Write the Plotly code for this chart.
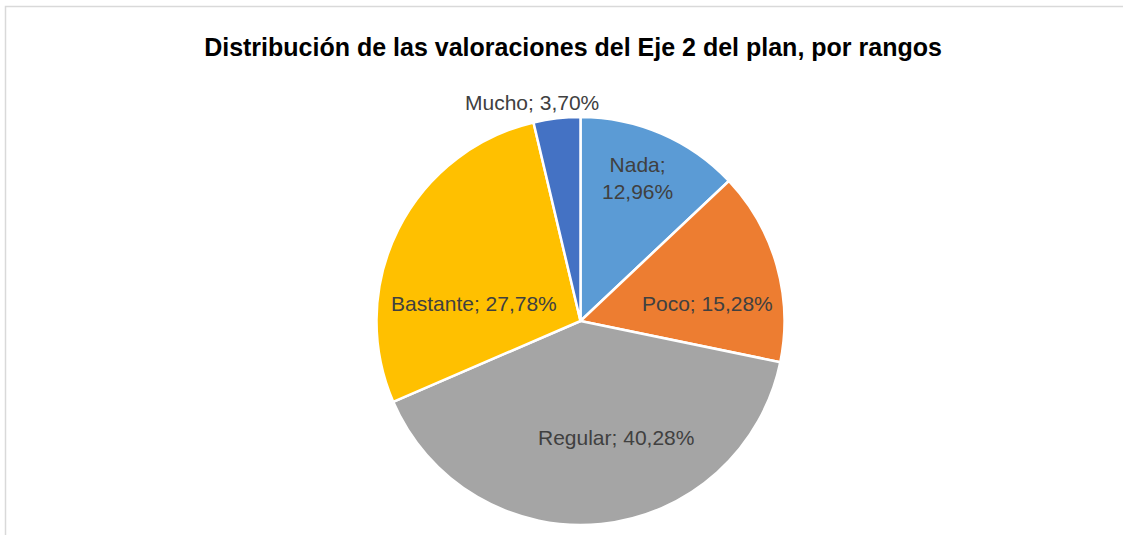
import plotly.graph_objects as go

categories = ["Nada", "Poco", "Regular", "Bastante", "Mucho"]
values = [12.96, 15.28, 40.28, 27.78, 3.70]
colors = ["#5B9BD5", "#ED7D31", "#A5A5A5", "#FFC000", "#4472C4"]
# label layout (pixel centres of each data label, as in the reference) and line breaks
label_pos = [(637, 178), (708, 303), (616, 437), (474, 303), (532, 103)]
label_sep = [";<br>", "; ", "; ", "; ", "; "]

W, H = 1123, 535
cx, cy, R = 580.5, 321, 204
FONT = "Liberation Sans, Arial, sans-serif"

fig = go.Figure(go.Pie(
    labels=categories, values=values, sort=False, direction="clockwise", rotation=0,
    marker=dict(colors=colors, line=dict(color="white", width=2.5)),
    textinfo="none",
    domain=dict(x=[(cx - R) / W, (cx + R) / W], y=[(H - cy - R) / H, (H - cy + R) / H]),
    showlegend=False, hoverinfo="label+percent",
))

annotations = []
for cat, val, (px, py), sep in zip(categories, values, label_pos, label_sep):
    txt = f"{cat}{sep}{val:.2f}%".replace(".", ",")
    annotations.append(dict(
        text=txt, x=px / W, y=1 - py / H, xref="paper", yref="paper",
        xanchor="center", yanchor="middle", showarrow=False, align="center",
        font=dict(family=FONT, size=21, color="#404040"),
    ))

fig.update_layout(
    width=W, height=H, separators=",.",
    margin=dict(l=0, r=0, t=0, b=0),
    paper_bgcolor="white", plot_bgcolor="white",
    title=dict(text="<b>Distribución de las valoraciones del Eje 2 del plan, por rangos</b>",
               x=573 / W, xanchor="center", y=1 - 47 / H, yanchor="middle",
               font=dict(family=FONT, size=25, color="#000000")),
    annotations=annotations,
    shapes=[dict(type="rect", xref="paper", yref="paper", x0=5.5 / W, x1=1.02, y0=-0.02, y1=1 - 6.5 / H,
                 line=dict(color="#D9D9D9", width=1.5), fillcolor="rgba(0,0,0,0)", layer="below")],
)

fig.write_html("out.html", config={"displayModeBar": False},
               post_script="document.body.style.margin='0';document.body.style.overflow='hidden';")
